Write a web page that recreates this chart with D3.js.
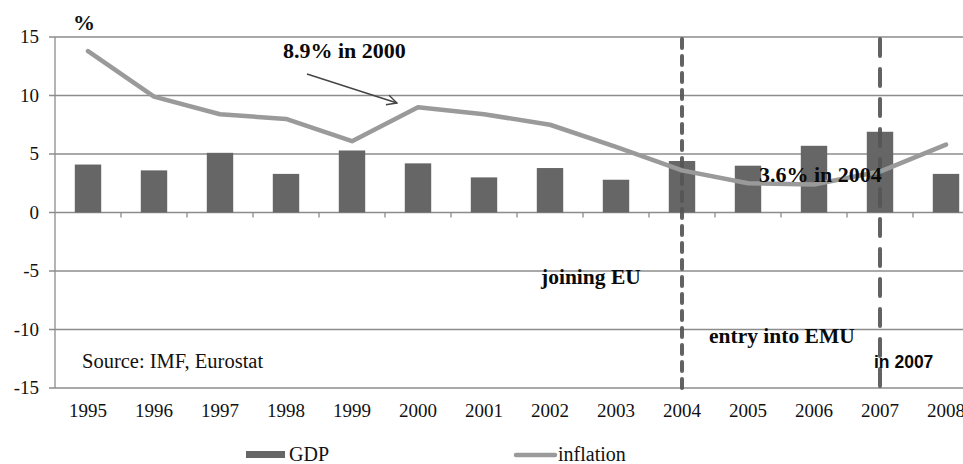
<!DOCTYPE html>
<html>
<head>
<meta charset="utf-8">
<script src="https://cdn.jsdelivr.net/npm/d3@7"></script>
<style>
  html, body { margin: 0; padding: 0; background: #fff; }
  svg { display: block; }
</style>
</head>
<body>
<svg id="chart" width="963" height="464"></svg>
<script>
const years = ["1995","1996","1997","1998","1999","2000","2001","2002","2003","2004","2005","2006","2007","2008"];
const gdp = [4.1, 3.6, 5.1, 3.3, 5.3, 4.2, 3.0, 3.8, 2.8, 4.4, 4.0, 5.7, 6.9, 3.3];
const inflation = [13.8, 9.9, 8.4, 8.0, 6.1, 9.0, 8.4, 7.5, 5.6, 3.6, 2.5, 2.4, 3.5, 5.8];
const yTicks = [-15, -10, -5, 0, 5, 10, 15];
const markerYears = ["2004", "2007"];
const seriesNames = ["GDP", "inflation"];

const svg = d3.select("#chart");
const mLeft = 55, mTop = 37, mBottom = 388, step = 66, padIn = 0.6;
const x = d3.scaleBand().domain(years).range([mLeft, mLeft + step * years.length]).paddingInner(padIn).paddingOuter(0.3);
const y = d3.scaleLinear().domain([-15, 15]).range([mBottom, mTop]);
const cx = d => x(d) + x.bandwidth() / 2;
const serif = "'Liberation Serif', 'Times New Roman', serif";
const gridColor = "#8c8c8c";

// gridlines
svg.append("g").selectAll("line").data(yTicks).join("line")
  .attr("x1", mLeft - 6).attr("x2", 963)
  .attr("y1", d => y(d)).attr("y2", d => y(d))
  .attr("stroke", gridColor).attr("stroke-width", 1.3);

// y axis line
svg.append("line").attr("x1", mLeft).attr("x2", mLeft).attr("y1", mTop).attr("y2", mBottom)
  .attr("stroke", gridColor).attr("stroke-width", 1.3);

// y tick labels
svg.append("g").selectAll("text").data(yTicks).join("text")
  .attr("x", 39).attr("y", d => y(d) + 6)
  .attr("text-anchor", "end")
  .style("font-family", serif).style("font-size", "19px").attr("fill", "#111")
  .text(d => d);

// x ticks at zero line (band boundaries)
const boundary = d => x(d) - x.step() * padIn / 2;
svg.append("g").selectAll("line").data(years.slice(1)).join("line")
  .attr("x1", boundary).attr("x2", boundary)
  .attr("y1", y(0)).attr("y2", y(0) + 5)
  .attr("stroke", gridColor).attr("stroke-width", 1.3);

// x labels
svg.append("g").selectAll("text").data(years).join("text")
  .attr("x", d => cx(d)).attr("y", 417)
  .attr("text-anchor", "middle")
  .style("font-family", serif).style("font-size", "19px").attr("fill", "#111")
  .text(d => d);

// bars
svg.append("g").selectAll("rect").data(years).join("rect")
  .attr("x", d => x(d)).attr("width", x.bandwidth())
  .attr("y", (d, i) => y(Math.max(0, gdp[i])))
  .attr("height", (d, i) => Math.abs(y(gdp[i]) - y(0)))
  .attr("fill", "#666666");

// dashed marker lines
const dashes = { "2004": "9,8", "2007": "17,13" };
svg.append("g").selectAll("line").data(markerYears).join("line")
  .attr("x1", d => cx(d)).attr("x2", d => cx(d))
  .attr("y1", mTop + 2).attr("y2", mBottom)
  .attr("stroke", "#555").attr("stroke-opacity", 0.92).attr("stroke-width", 4)
  .attr("stroke-linecap", "round")
  .attr("stroke-dasharray", d => dashes[d]);

// inflation line
const line = d3.line().x((d, i) => cx(years[i])).y(d => y(d)).curve(d3.curveLinear);
svg.append("path").datum(inflation)
  .attr("d", line).attr("fill", "none")
  .attr("stroke", "#9a9a9a").attr("stroke-width", 4.5)
  .attr("stroke-linejoin", "round").attr("stroke-linecap", "round");

// "%" label
svg.append("text").attr("x", 73).attr("y", 30)
  .style("font-family", serif).style("font-size", "22px").style("font-weight", "bold").attr("fill", "#111")
  .text("%");

// annotation arrow
svg.append("defs").append("marker").attr("id", "arr")
  .attr("viewBox", "0 0 12 12").attr("refX", 11).attr("refY", 6)
  .attr("markerWidth", 12).attr("markerHeight", 12).attr("markerUnits", "userSpaceOnUse")
  .attr("orient", "auto")
  .append("path").attr("d", "M1,1 L11,6 L1,11").attr("fill", "none").attr("stroke", "#444").attr("stroke-width", 1.4);
svg.append("line").attr("x1", 307).attr("y1", 74).attr("x2", 397).attr("y2", 103)
  .attr("stroke", "#444").attr("stroke-width", 1.4).attr("marker-end", "url(#arr)");

function bold(t, xx, yy, size, fam) {
  svg.append("text").attr("x", xx).attr("y", yy)
    .style("font-family", fam || serif).style("font-size", size + "px").style("font-weight", "bold")
    .attr("fill", "#0a0a0a").text(t);
}
bold("8.9% in 2000", 283, 58, 22);
bold("3.6% in 2004", 759, 182, 22);
bold("joining EU", 541, 284, 21.5);
bold("entry into EMU", 709, 343, 21.5);
bold("in 2007", 874, 368, 17.5, "'Liberation Sans', Arial, sans-serif");

svg.append("text").attr("x", 82).attr("y", 368)
  .style("font-family", serif).style("font-size", "20.5px").attr("fill", "#111")
  .text("Source: IMF, Eurostat");

// legend
const lg = svg.append("g");
lg.append("rect").attr("x", 246).attr("y", 451).attr("width", 39).attr("height", 7).attr("fill", "#666");
lg.append("text").attr("x", 289).attr("y", 461).style("font-family", serif).style("font-size", "20px").attr("fill", "#111").text(seriesNames[0]);
lg.append("line").attr("x1", 516).attr("x2", 555).attr("y1", 455).attr("y2", 455).attr("stroke", "#9a9a9a").attr("stroke-width", 4.5).attr("stroke-linecap", "round");
lg.append("text").attr("x", 558).attr("y", 461).style("font-family", serif).style("font-size", "20px").attr("fill", "#111").text(seriesNames[1]);
</script>
</body>
</html>
